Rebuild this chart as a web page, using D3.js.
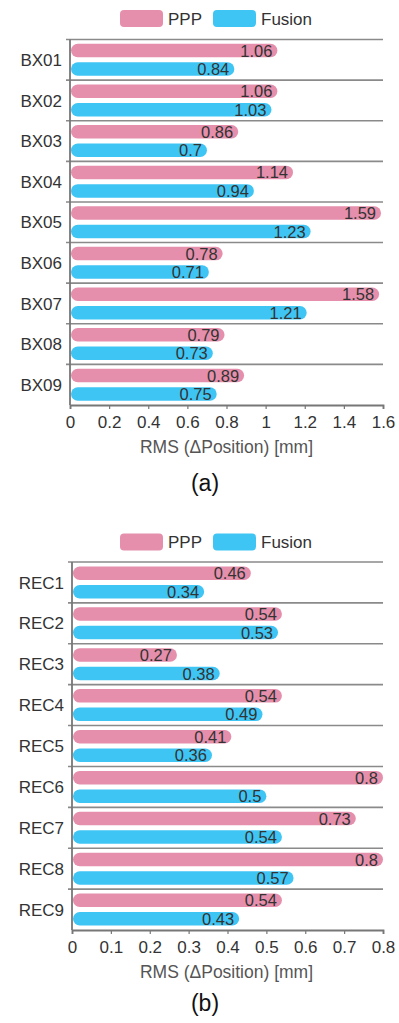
<!DOCTYPE html>
<html>
<head>
<meta charset="utf-8">
<script src="https://cdn.jsdelivr.net/npm/d3@7"></script>
<style>
body { margin: 0; background: #fff; }
text { font-family: "Liberation Sans", Arial, sans-serif; fill: #333; }
</style>
</head>
<body>
<script>
// panel (a)
const stationsA = ["BX01", "BX02", "BX03", "BX04", "BX05", "BX06", "BX07", "BX08", "BX09"];
const pppA = [1.06, 1.06, 0.86, 1.14, 1.59, 0.78, 1.58, 0.79, 0.89];
const fusionA = [0.84, 1.03, 0.7, 0.94, 1.23, 0.71, 1.21, 0.73, 0.75];
const ticksA = [0, 0.2, 0.4, 0.6, 0.8, 1, 1.2, 1.4, 1.6];

// panel (b)
const stationsB = ["REC1", "REC2", "REC3", "REC4", "REC5", "REC6", "REC7", "REC8", "REC9"];
const pppB = [0.46, 0.54, 0.27, 0.54, 0.41, 0.8, 0.73, 0.8, 0.54];
const fusionB = [0.34, 0.53, 0.38, 0.49, 0.36, 0.5, 0.54, 0.57, 0.43];
const ticksB = [0, 0.1, 0.2, 0.3, 0.4, 0.5, 0.6, 0.7, 0.8];

const seriesNames = ["PPP", "Fusion"];
const colors = ["#e68fac", "#3fc5f3"];

const W = 399, H = 1023;
const svg = d3.select("body").append("svg").attr("width", W).attr("height", H);

function drawPanel(o) {
  const g = svg.append("g");
  const x = d3.scaleLinear().domain([0, o.ticks[o.ticks.length - 1]]).range([o.left, 383]);
  const y = d3.scaleBand().domain(o.cats).range([o.top, o.bottom]);

  // legend
  const leg = g.append("g").attr("transform", "translate(0," + o.legY + ")");
  [120, 213].forEach((lx, i) => {
    leg.append("rect").attr("x", lx).attr("y", -8.5).attr("width", 43).attr("height", 17)
      .attr("rx", 4).attr("fill", colors[i]);
    leg.append("text").attr("x", lx + 48).attr("y", 0).attr("dy", "0.36em")
      .attr("font-size", 17).text(seriesNames[i]);
  });

  // gridlines at band boundaries
  const bounds = o.cats.map(c => y(c));
  g.selectAll(".grid").data(bounds).enter().append("line")
    .attr("x1", o.left - 4).attr("x2", 383)
    .attr("y1", d => d).attr("y2", d => d)
    .attr("stroke", "#8a8a8a").attr("stroke-width", 1.6);

  // bars
  const bh = 13.5, gap = 5;
  const rows = [];
  o.cats.forEach((c, i) => {
    rows.push({ c: c, s: 0, v: o.ppp[i] });
    rows.push({ c: c, s: 1, v: o.fusion[i] });
  });
  const mid = c => y(c) + y.bandwidth() / 2;
  const by = d => d.s === 0 ? mid(d.c) - gap / 2 - bh : mid(d.c) + gap / 2;
  g.selectAll(".bar").data(rows).enter().append("rect")
    .attr("x", o.left + 1).attr("y", by)
    .attr("width", d => x(d.v) - o.left - 1).attr("height", bh)
    .attr("rx", bh / 2).attr("fill", d => colors[d.s]);
  g.selectAll(".val").data(rows).enter().append("text")
    .attr("x", d => x(d.v) - 5).attr("y", d => by(d) + bh / 2).attr("dy", "0.37em")
    .attr("text-anchor", "end").attr("font-size", 16.5).text(d => d.v);

  // category labels
  g.selectAll(".cat").data(o.cats).enter().append("text")
    .attr("x", o.left - 8).attr("y", d => mid(d)).attr("dy", "0.36em")
    .attr("text-anchor", "end").attr("font-size", 17).text(d => d);

  // left axis line
  g.append("line").attr("x1", o.left).attr("x2", o.left).attr("y1", o.top).attr("y2", o.bottom)
    .attr("stroke", "#777").attr("stroke-width", 1.8);

  // bottom axis
  const ax = g.append("g").attr("transform", "translate(0," + o.bottom + ")")
    .call(d3.axisBottom(x).tickValues(o.ticks).tickFormat(d3.format("")).tickSize(4).tickPadding(7));
  ax.select(".domain").attr("stroke", "#777").attr("stroke-width", 1.8);
  ax.selectAll(".tick line").attr("stroke", "#777").attr("stroke-width", 1.2);
  ax.selectAll(".tick text").attr("font-size", 17).attr("fill", "#333")
    .attr("font-family", "'Liberation Sans', Arial, sans-serif");

  g.append("text").attr("x", 226.5).attr("y", o.bottom + 48)
    .attr("text-anchor", "middle").attr("font-size", 17.5).style("fill", "#555")
    .text("RMS (ΔPosition) [mm]");

  g.append("text").attr("x", 205).attr("y", o.tagY)
    .attr("text-anchor", "middle").attr("font-size", 23).style("fill", "#111")
    .text(o.tag);
}

drawPanel({ cats: stationsA, ppp: pppA, fusion: fusionA, ticks: ticksA,
  left: 70, top: 39.5, bottom: 405, legY: 18.5, tagY: 491, tag: "(a)" });
drawPanel({ cats: stationsB, ppp: pppB, fusion: fusionB, ticks: ticksB,
  left: 72, top: 562, bottom: 930, legY: 542, tagY: 1011, tag: "(b)" });
</script>
</body>
</html>
